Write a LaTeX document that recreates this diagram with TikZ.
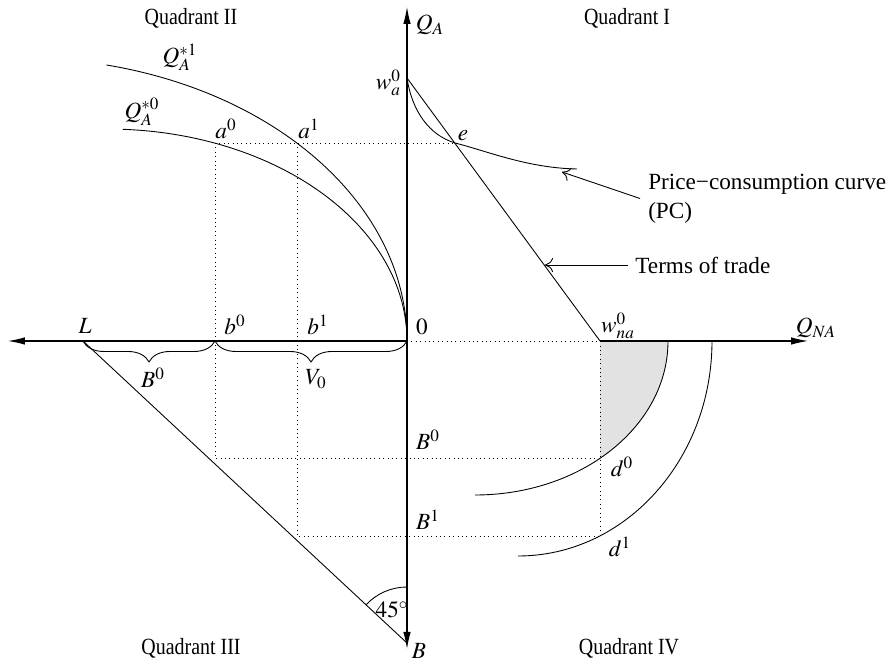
\documentclass[tikz,border=0pt]{standalone}
\usepackage{mathptmx}
\usepackage{fontspec}
\setmainfont{Liberation Serif}
\usetikzlibrary{arrows.meta,decorations.pathreplacing,positioning,calc}
\definecolor{shadegray}{RGB}{226,226,226}

\begin{document}
\begin{tikzpicture}[x=0.2cm, y=0.2cm, >={Latex[length=3.4mm,width=1.5mm]}, font=\fontsize{13.2}{16.5}\selectfont]
    \tikzstyle{axis} = [draw, line width=0.6pt]
    \tikzstyle{curve} = [draw, line width=0.5pt]
    \tikzstyle{guide} = [draw, dotted, line width=0.5pt]
    \tikzstyle{pointer} = [draw, line width=0.5pt, -{To[length=1.6mm,width=2.8mm]}]
    \tikzstyle{bracebelow} = [draw, line width=0.5pt, decorate, decoration={brace, amplitude=0.42cm}]
    \tikzstyle{quad} = [inner sep=0pt, xscale=0.86, transform shape]

    \useasboundingbox (-40.7,-32.3) rectangle (48.5,34.1);

    \coordinate (O) at (0,0);
    \coordinate (west) at (-39.9,0);
    \coordinate (east) at (40.1,0);
    \coordinate (north) at (0,33.4);
    \coordinate (south) at (0,-30.8);
    \coordinate (Bend) at (0,-30.2);
    \coordinate (L) at (-32.4,0);
    \coordinate (b0) at (-19.2,0);
    \coordinate (b1) at (-11,0);
    \coordinate (wa) at (0,26.3);
    \coordinate (wna) at (19.3,0);
    \coordinate (e) at (4.8,19.8);
    \coordinate (a0) at (-19.2,19.8);
    \coordinate (a1) at (-11,19.8);
    \coordinate (d0) at (19.3,-11.7);
    \coordinate (d1) at (19.3,-19.5);
    \coordinate (pcend) at (17,17.2);
    \coordinate (pcpt) at (15.5,16.9);
    \coordinate (totpt) at (13.8,7.6);

    \fill [shadegray] (wna) -- (26.1,0) arc[start angle=0, end angle=-49.6, x radius=19.3, y radius=15.4] -- cycle;

    \path [guide] (a0) -- (e);
    \path [guide] (a0) |- (d0);
    \path [guide] (a1) |- (d1);
    \path [guide] (O) -- (wna) -- (d1);

    \path [axis, ->] (O) -- (west);
    \path [axis, ->] (wna) -- (east);
    \path [axis, ->] (O) -- (north);
    \path [axis, ->] (O) -- (south);

    \path [curve] (-30.05,27.6) arc[start angle=77.2, end angle=0, x radius=38.6, y radius=28.3];
    \path [curve] (-28.43,21.17) arc[start angle=87, end angle=0, x radius=30, y radius=21.2];
    \path [curve] (wa) -- (wna);
    \path [curve] (wa) .. controls (0.5,23) and (2.2,20.6) .. (e) .. controls (8,19) and (12,17.3) .. (pcend);
    \path [curve] (26.1,0) arc[start angle=0, end angle=-90, x radius=19.3, y radius=15.4];
    \path [curve] (30.5,0) arc[start angle=0, end angle=-90, x radius=19.4, y radius=21.5];
    \path [curve] (L) -- (Bend);
    \path [curve] ($(Bend)+(0,5.6)$) arc[start angle=90, end angle=137, radius=5.6];

    \path [bracebelow] (b0) -- (L);
    \path [bracebelow] (O) -- (b0);

    \node [quad] (q2) at (-21.6,32.3) {Quadrant II};
    \node [quad] (q1) at (22,32.3) {Quadrant I};
    \node [quad] (q3) at (-21.6,-30.7) {Quadrant III};
    \node [quad] (q4) at (22.2,-30.7) {Quadrant IV};

    \node (qalab) at (2.3,31.6) {$Q_A$};
    \node (qnalab) at (40.9,1.3) {$Q_{NA}$};
    \node (blab) at (1.2,-31.0) {$B$};
    \node (llab) at (-32.2,1.5) {$L$};
    \node (b0lab) at (-17.2,1.6) {$b^0$};
    \node (b1lab) at (-8.9,1.6) {$b^1$};
    \node (olab) at (1.5,1.4) {$0$};
    \node (a0lab) at (-18.1,21.2) {$a^0$};
    \node (a1lab) at (-9.8,21.2) {$a^1$};
    \node (qs1lab) at (-22.7,28.4) {$Q_A^{*1}$};
    \node (qs0lab) at (-26.5,22.9) {$Q_A^{*0}$};
    \node [anchor=east, inner sep=1pt] (walab) at (-0.4,25.8) {$w_a^0$};
    \node (elab) at (5.6,20.5) {$e$};
    \node (wnalab) at (21.1,1.5) {$w_{na}^0$};
    \node (B0brace) at (-25.4,-3.7) {$B^0$};
    \node (V0brace) at (-9.1,-3.8) {$V_0$};
    \node (B0lab) at (2.1,-9.9) {$B^0$};
    \node (B1lab) at (2.1,-17.9) {$B^1$};
    \node (d0lab) at (21.5,-12.6) {$d^0$};
    \node (d1lab) at (21.3,-20.6) {$d^1$};
    \node (anglab) at (-1.5,-26.9) {$45^\circ$};

    \node [anchor=west, align=left, inner sep=4.5pt] (pclab) at (23.3,14.25) {Price−consumption curve\\(PC)};
    \node [anchor=west, inner sep=4pt] (totlab) at (22.1,7.6) {Terms of trade};

    \path [pointer] (pclab.west) -- (pcpt);
    \path [pointer] (totlab.west) -- (totpt);
\end{tikzpicture}
\end{document}
